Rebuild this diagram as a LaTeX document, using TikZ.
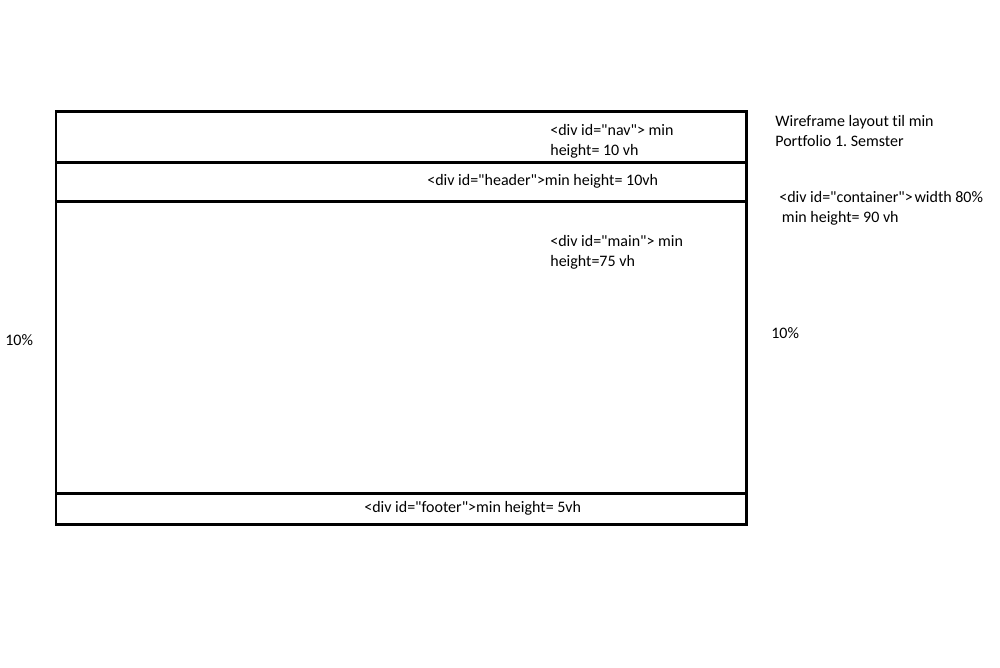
\documentclass[tikz,border=0pt]{standalone}
\usepackage{fontspec}
\setmainfont{Carlito}[Ligatures={TeXOff,CommonOff}]
\frenchspacing
\begin{document}
\begin{tikzpicture}[x=0.2mm,y=-0.2mm,
  frame/.style={line width=1.7pt},
  lbl/.style={anchor=west,inner sep=0pt,align=left,font=\fontsize{9.1}{11.4}\selectfont}]
\useasboundingbox (0,0) rectangle (1000,667);
% page frame and section dividers
\draw[frame] (56,111) rectangle (746,524);
\draw[frame] (56,162) -- (746,162);
\draw[frame] (56,201) -- (746,201);
\draw[frame] (56,493) -- (746,493);
% section labels
\node[lbl] (nav) at (550,141) {<div id="nav"> min\\height= 10 vh};
\node[lbl] (header) at (427,181) {<div id="header">min height= 10vh};
\node[lbl] (main) at (550,252) {<div id="main"> min\\height=75 vh};
\node[lbl] (footer) at (364,508) {<div id="footer">min height= 5vh};
% side notes
\node[lbl] (title) at (775,131) {Wireframe layout til min\\Portfolio 1. Semster};
\node[lbl] (container) at (779,208) {<div id="container">\hspace{1pt}width 80\%\\\hspace*{1.5pt}min height= 90 vh};
\node[lbl] (leftpct) at (5,340) {10\%};
\node[lbl] (rightpct) at (771,333) {10\%};
\end{tikzpicture}
\end{document}
